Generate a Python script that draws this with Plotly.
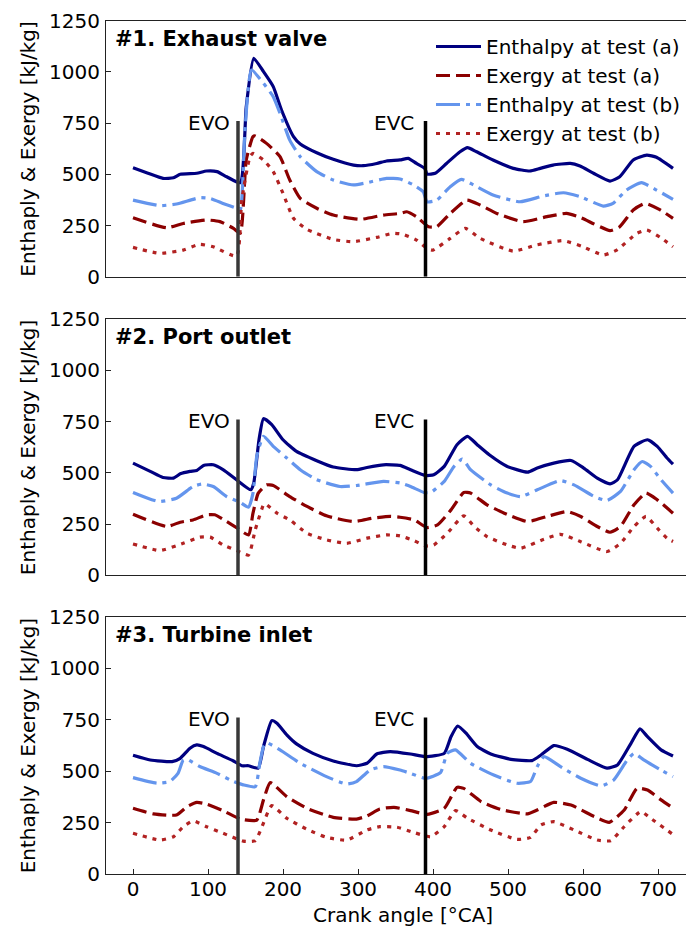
import plotly.graph_objects as go

# ---------------- data (crank angle [deg CA], value [kJ/kg]) ----------------
# Panel 1: exhaust valve
p1_ha_x = [0, 20, 40, 54, 63, 85, 98, 112, 125, 143, 151, 161, 174, 187, 198, 214, 223, 245, 267, 294, 307, 325, 338, 356, 367, 378, 389, 392, 403, 418, 436, 446, 458, 480, 507, 529, 543, 560, 583, 596, 614, 636, 649, 667, 685, 698, 720]
p1_ha_y = [532, 505, 480, 483, 500, 505, 516, 513, 488, 459, 830, 1066, 1001, 928, 814, 684, 648, 605, 573, 545, 542, 553, 565, 570, 578, 553, 529, 501, 505, 553, 610, 630, 610, 570, 529, 516, 529, 545, 553, 540, 505, 467, 488, 570, 594, 583, 529]
p1_ea_x = [0, 45, 67, 98, 116, 134, 143, 151, 160, 163, 178, 196, 209, 223, 245, 267, 303, 334, 356, 365, 378, 394, 405, 423, 445, 463, 485, 520, 552, 578, 596, 636, 649, 667, 683, 703, 720]
p1_ea_y = [288, 239, 260, 277, 269, 236, 212, 570, 684, 687, 651, 586, 472, 382, 334, 301, 280, 301, 309, 317, 293, 244, 244, 309, 374, 350, 309, 269, 293, 309, 290, 225, 244, 326, 358, 326, 285]
p1_hb_x = [0, 36, 58, 89, 103, 120, 138, 143, 149, 158, 174, 187, 196, 209, 223, 245, 267, 294, 312, 338, 356, 374, 387, 392, 405, 423, 438, 454, 480, 516, 547, 574, 596, 627, 640, 658, 678, 698, 720]
p1_hb_y = [374, 347, 355, 386, 382, 358, 334, 326, 700, 1009, 944, 879, 798, 667, 586, 513, 472, 448, 459, 480, 477, 448, 415, 366, 374, 439, 475, 448, 399, 366, 394, 410, 391, 345, 358, 423, 459, 423, 378]
p1_eb_x = [0, 36, 67, 89, 107, 138, 145, 156, 160, 174, 187, 200, 214, 232, 267, 294, 325, 347, 360, 378, 392, 400, 423, 443, 463, 507, 538, 574, 600, 627, 645, 672, 685, 703, 720]
p1_eb_y = [143, 114, 130, 158, 146, 101, 374, 586, 602, 570, 513, 407, 285, 231, 182, 171, 192, 212, 207, 179, 138, 130, 187, 236, 187, 125, 155, 176, 146, 106, 130, 212, 228, 192, 146]

# Panel 2: port outlet
p2_ha_x = [0, 23, 40, 54, 63, 76, 85, 94, 107, 120, 138, 157, 161, 168, 174, 185, 200, 218, 245, 267, 298, 312, 334, 356, 370, 390, 401, 415, 432, 446, 459, 475, 499, 526, 539, 561, 584, 601, 619, 636, 646, 668, 686, 699, 712, 720]
p2_ha_y = [547, 507, 477, 474, 495, 507, 511, 536, 539, 515, 466, 417, 450, 661, 764, 735, 661, 604, 559, 528, 515, 526, 539, 536, 515, 487, 490, 531, 637, 678, 637, 588, 531, 503, 523, 547, 560, 523, 474, 446, 466, 629, 661, 629, 572, 542]
p2_ea_x = [0, 45, 63, 80, 98, 109, 125, 138, 154, 160, 167, 178, 187, 209, 232, 258, 294, 320, 343, 356, 375, 392, 406, 424, 441, 450, 472, 495, 526, 552, 579, 597, 619, 636, 650, 668, 684, 699, 720]
p2_ea_y = [298, 238, 259, 270, 295, 295, 262, 233, 197, 303, 401, 441, 438, 384, 336, 290, 262, 279, 287, 283, 270, 233, 246, 319, 404, 401, 344, 303, 262, 287, 311, 287, 238, 210, 238, 344, 401, 368, 303]
p2_hb_x = [0, 34, 58, 80, 92, 107, 125, 143, 154, 160, 165, 174, 187, 205, 223, 245, 276, 298, 334, 356, 370, 388, 397, 415, 428, 439, 450, 477, 499, 517, 539, 570, 588, 615, 632, 650, 668, 679, 690, 704, 720]
p2_hb_y = [404, 360, 376, 433, 445, 433, 384, 355, 332, 401, 580, 678, 629, 572, 515, 466, 433, 438, 458, 450, 433, 404, 404, 458, 531, 567, 515, 441, 401, 384, 417, 462, 441, 384, 365, 409, 515, 555, 531, 466, 401]
p2_eb_x = [0, 36, 67, 89, 103, 120, 138, 154, 163, 174, 176, 192, 209, 232, 258, 285, 312, 338, 356, 375, 390, 401, 419, 441, 455, 472, 499, 517, 548, 570, 597, 632, 650, 668, 684, 699, 712, 720]
p2_eb_y = [153, 121, 156, 186, 186, 148, 121, 99, 222, 344, 349, 303, 270, 205, 173, 156, 181, 197, 192, 169, 143, 148, 205, 290, 238, 189, 148, 132, 176, 200, 164, 116, 156, 238, 287, 230, 181, 165]

# Panel 3: turbine inlet
p3_ha_x = [0, 23, 52, 63, 76, 85, 94, 112, 134, 145, 154, 167, 174, 185, 192, 205, 218, 240, 267, 298, 312, 325, 343, 370, 390, 415, 424, 433, 444, 459, 477, 504, 532, 544, 561, 579, 606, 632, 646, 664, 676, 686, 704, 720]
p3_ha_y = [577, 554, 546, 562, 611, 627, 619, 586, 549, 526, 526, 514, 619, 745, 732, 676, 632, 586, 549, 526, 538, 583, 595, 583, 570, 586, 667, 719, 684, 619, 583, 557, 551, 578, 624, 606, 557, 514, 530, 635, 705, 667, 603, 573]
p3_ea_x = [0, 27, 58, 72, 85, 98, 120, 143, 165, 174, 183, 205, 232, 267, 298, 312, 329, 348, 370, 392, 415, 432, 441, 464, 490, 526, 539, 561, 584, 615, 635, 655, 672, 686, 704, 720]
p3_ea_y = [319, 292, 287, 327, 348, 340, 308, 267, 262, 360, 444, 376, 319, 275, 267, 282, 316, 324, 308, 290, 319, 421, 416, 352, 314, 292, 311, 348, 335, 279, 251, 311, 416, 408, 360, 320]
p3_hb_x = [0, 32, 49, 60, 67, 72, 89, 112, 134, 147, 163, 169, 174, 178, 196, 223, 258, 285, 298, 316, 334, 356, 370, 390, 410, 419, 430, 450, 481, 512, 530, 539, 548, 570, 597, 624, 641, 659, 668, 681, 704, 720]
p3_hb_y = [468, 441, 449, 489, 554, 557, 522, 489, 449, 433, 424, 538, 619, 638, 603, 538, 473, 437, 449, 505, 522, 505, 489, 465, 492, 586, 603, 538, 481, 441, 449, 522, 570, 522, 465, 428, 457, 554, 586, 554, 505, 473]
p3_eb_x = [0, 36, 54, 67, 80, 98, 120, 147, 163, 172, 185, 205, 232, 258, 285, 312, 329, 352, 375, 397, 415, 430, 446, 477, 512, 530, 544, 561, 588, 619, 637, 655, 677, 690, 720]
p3_eb_y = [198, 165, 181, 230, 258, 230, 198, 160, 162, 230, 332, 271, 217, 178, 165, 214, 230, 227, 201, 181, 230, 308, 271, 214, 168, 178, 238, 254, 214, 165, 162, 230, 303, 271, 192]

panel_titles = ["#1. Exhaust valve", "#2. Port outlet", "#3. Turbine inlet"]
series_names = ["Enthalpy at test (a)", "Exergy at test (a)", "Enthalpy at test (b)", "Exergy at test (b)"]
evo_angle = 140
evc_angle = 390
marker_top = 760
x_ticks = [0, 100, 200, 300, 400, 500, 600, 700]
y_ticks = [0, 250, 500, 750, 1000, 1250]

panels = [
    [(p1_ha_x, p1_ha_y), (p1_ea_x, p1_ea_y), (p1_hb_x, p1_hb_y), (p1_eb_x, p1_eb_y)],
    [(p2_ha_x, p2_ha_y), (p2_ea_x, p2_ea_y), (p2_hb_x, p2_hb_y), (p2_eb_x, p2_eb_y)],
    [(p3_ha_x, p3_ha_y), (p3_ea_x, p3_ea_y), (p3_hb_x, p3_hb_y), (p3_eb_x, p3_eb_y)],
]

# ---------------- styling ----------------
FONT = "DejaVu Sans"
OFF = 8                      # page body margin of the html page
W, H = 694 - OFF, 929 - OFF
L_MARGIN = 106 - OFF
PW = W - L_MARGIN
styles = [
    dict(color="#000080", dash="solid"),
    dict(color="#8B0000", dash="14px,6px"),
    dict(color="#6495ED", dash="24px,6px,4px,6px"),
    dict(color="#B22222", dash="4px,6px"),
]
# panel extents in page pixels (top, bottom)
panel_px = [(20.7, 276.7), (319.0, 575.3), (616.7, 874.0)]
domains = [[1 - (b - OFF) / H, 1 - (t - OFF) / H] for t, b in panel_px]

fig = go.Figure()
for i, series in enumerate(panels):
    xa = "x" if i == 0 else f"x{i+1}"
    ya = "y" if i == 0 else f"y{i+1}"
    for j, (xs, ys) in enumerate(series):
        fig.add_trace(go.Scatter(
            x=xs, y=ys, mode="lines", name=series_names[j],
            line=dict(color=styles[j]["color"], dash=styles[j]["dash"], width=3.2,
                      shape="spline", smoothing=0.5),
            xaxis=xa, yaxis=ya, showlegend=(i == 0), legendrank=j + 1,
        ))

axis_line = "#222222"
layout = dict(
    width=W, height=H,
    margin=dict(l=L_MARGIN, r=0, t=0, b=0, autoexpand=False),
    paper_bgcolor="white", plot_bgcolor="white",
    font=dict(family=FONT, size=20, color="black"),
    showlegend=True,
    legend=dict(x=(431 - 106) / PW, y=1 - (27 - OFF) / H, xanchor="left", yanchor="top",
                bgcolor="rgba(0,0,0,0)", borderwidth=0, font=dict(size=20, family=FONT),
                itemwidth=45, tracegroupgap=0),
)
for i in range(3):
    xk = "xaxis" if i == 0 else f"xaxis{i+1}"
    yk = "yaxis" if i == 0 else f"yaxis{i+1}"
    ya = "y" if i == 0 else f"y{i+1}"
    xa = "x" if i == 0 else f"x{i+1}"
    layout[xk] = dict(
        domain=[0, 1], range=[-36, 748], anchor=ya, showgrid=False, zeroline=False,
        showline=True, linecolor=axis_line, linewidth=1, mirror=True, automargin=False,
        tickvals=x_ticks, ticks="inside" if i == 2 else "", ticklen=5, tickcolor=axis_line,
        showticklabels=(i == 2), tickfont=dict(size=20, family=FONT, color="black"),
        ticklabelstandoff=-3,
    )
    layout[yk] = dict(
        domain=domains[i], range=[0, 1250], anchor=xa, showgrid=False, zeroline=False,
        showline=True, linecolor=axis_line, linewidth=1, mirror=False, automargin=False,
        tickvals=y_ticks, ticks="inside", ticklen=5, tickcolor=axis_line,
        tickfont=dict(size=20, family=FONT, color="black"),
        ticklabelstandoff=1,
    )
fig.update_layout(**layout)

shapes = []
annotations = []
for i in range(3):
    xa = "x" if i == 0 else f"x{i+1}"
    ya = "y" if i == 0 else f"y{i+1}"
    shapes.append(dict(type="line", xref=xa, yref=ya, x0=evo_angle, x1=evo_angle, y0=0, y1=marker_top,
                       line=dict(color="#383838", width=3.5)))
    shapes.append(dict(type="line", xref=xa, yref=ya, x0=evc_angle, x1=evc_angle, y0=0, y1=marker_top,
                       line=dict(color="black", width=3.5)))
    annotations.append(dict(xref=xa, yref=ya, x=evo_angle - 8, y=752, text="EVO", showarrow=False,
                            xanchor="right", yanchor="middle", font=dict(size=20, family=FONT, color="black")))
    annotations.append(dict(xref=xa, yref=ya, x=evc_angle - 13, y=752, text="EVC", showarrow=False,
                            xanchor="right", yanchor="middle", font=dict(size=20, family=FONT, color="black")))
    annotations.append(dict(xref=xa, yref=ya, x=-27, y=1160, text="<b>" + panel_titles[i] + "</b>",
                            showarrow=False, xanchor="left", yanchor="middle",
                            font=dict(size=21, family=FONT, color="black")))
    t, b = panel_px[i]
    annotations.append(dict(xref="paper", yref="paper", x=(28 - 106) / PW,
                            y=1 - ((t + b) / 2 - OFF) / H, text="Enthaply & Exergy [kJ/kg]", textangle=-90,
                            showarrow=False, xanchor="center", yanchor="middle",
                            font=dict(size=20, family=FONT, color="black")))
annotations.append(dict(xref="x3", yref="paper", x=360, y=1 - (915 - OFF) / H, text="Crank angle [°CA]",
                        showarrow=False, xanchor="center", yanchor="middle",
                        font=dict(size=20, family=FONT, color="black")))
fig.update_layout(shapes=shapes, annotations=annotations)

fig.write_html("out.html")
